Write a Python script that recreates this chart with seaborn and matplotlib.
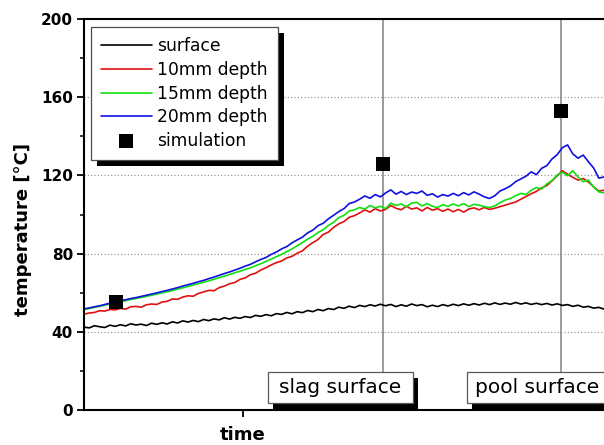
import numpy as np
import seaborn as sns
import matplotlib.pyplot as plt
from matplotlib.patches import Rectangle
from matplotlib.transforms import IdentityTransform

# time axis (arbitrary units, no numeric labels in the original)
time = list(range(101))

surface = [42.4, 42.0, 43.1, 42.6, 42.2, 43.4, 42.8, 43.6, 43.0, 44.1,
           43.5, 43.9, 43.2, 44.4, 43.8, 44.6, 44.0, 45.1, 44.5, 45.6,
           45.0, 45.8, 45.2, 46.3, 45.7, 46.6, 46.1, 47.2, 46.5, 47.4,
           46.9, 47.8, 47.3, 48.4, 47.9, 48.8, 48.2, 49.3, 48.9, 49.9,
           49.2, 50.3, 49.8, 50.9, 50.3, 51.4, 50.8, 51.9, 51.4, 52.6,
           52.0, 53.1, 52.4, 53.5, 52.9, 53.8, 53.2, 54.1, 53.3, 54.0,
           52.9, 53.8, 53.1, 54.2, 53.4, 53.9, 52.8, 53.6, 52.9, 53.9,
           53.2, 54.1, 53.4, 54.3, 53.6, 54.4, 53.7, 54.6, 53.9, 54.8,
           54.0, 54.7, 54.1, 55.0, 54.2, 54.8, 54.0, 54.6, 53.9, 54.5,
           53.7, 54.3, 53.5, 53.9, 53.0, 53.6, 52.6, 53.0, 52.1, 52.5,
           51.6]

depth10 = [49.0, 49.6, 49.9, 50.8, 50.6, 51.4, 51.2, 52.0, 51.6, 52.8,
           53.0, 52.6, 53.8, 54.2, 54.0, 55.2, 55.6, 56.8, 56.6, 57.8,
           58.4, 58.2, 59.6, 60.4, 61.2, 61.0, 62.6, 63.4, 64.6, 65.2,
           66.8, 67.6, 69.2, 70.0, 71.6, 72.8, 74.2, 75.4, 76.2, 77.8,
           78.6, 80.2, 81.4, 83.8, 85.6, 87.2, 89.8, 91.0, 93.4, 95.2,
           96.4, 98.6, 99.4, 100.8, 102.4, 101.2, 103.0, 101.8, 102.6, 104.6,
           103.2, 102.4, 104.2, 102.8, 103.4, 101.8, 103.6, 102.2, 103.0, 101.6,
           102.8, 101.4, 102.6, 101.2, 102.8, 103.4, 102.4, 103.6, 102.6, 103.2,
           104.0, 104.8, 105.6, 106.4, 107.8, 109.2, 110.6, 111.8, 113.6, 114.8,
           117.2, 119.8, 122.4, 120.6, 119.0, 117.6, 118.4, 116.6, 114.2, 112.0,
           112.4]

depth15 = [51.4, 51.9, 52.5, 53.0, 53.6, 54.2, 54.9, 55.4, 55.9, 56.5,
           57.0, 57.6, 58.1, 58.7, 59.3, 59.9, 60.5, 61.1, 61.8, 62.5,
           63.2, 63.9, 64.6, 65.3, 66.1, 66.9, 67.7, 68.5, 69.3, 70.2,
           71.0, 71.9, 72.7, 73.8, 74.8, 76.0, 77.2, 78.4, 79.6, 81.0,
           82.4, 84.0, 85.6, 87.4, 88.8, 90.8, 92.2, 94.4, 96.0, 98.4,
           99.6, 101.8, 102.4, 103.6, 102.8, 104.6, 103.4, 104.2, 103.0, 105.8,
           104.6, 105.4, 104.0, 105.8, 106.2, 104.4, 105.6, 104.2, 103.6, 105.0,
           104.2, 105.4, 104.4, 105.6, 104.0, 105.2, 104.8, 104.0, 103.6, 104.4,
           106.0, 107.4, 108.2, 109.6, 110.8, 110.2, 112.4, 113.8, 113.0, 115.6,
           117.4, 120.2, 121.6, 119.8, 122.4, 119.2, 116.8, 117.6, 114.0, 111.6,
           111.0]

depth20 = [51.7, 52.2, 52.8, 53.3, 54.0, 54.6, 55.4, 55.9, 56.4, 57.0,
           57.5, 58.1, 58.7, 59.3, 59.9, 60.6, 61.2, 61.9, 62.6, 63.4,
           64.1, 64.8, 65.6, 66.3, 67.2, 68.0, 68.9, 69.8, 70.6, 71.6,
           72.5, 73.6, 74.5, 75.8, 77.0, 78.0, 79.6, 80.8, 82.4, 83.6,
           85.5, 87.0, 88.4, 90.6, 92.0, 94.3, 95.5, 97.8, 99.6, 101.5,
           103.0, 105.6, 106.4, 107.8, 109.5, 108.3, 110.2, 109.0, 111.0, 112.6,
           110.4, 111.8, 110.2, 111.5, 110.8, 112.0, 109.8, 110.6, 108.9, 110.2,
           109.4, 110.8, 109.6, 111.2, 110.0, 111.6, 110.4, 109.0, 108.2, 109.6,
           112.0, 113.2, 114.6, 116.8, 118.2, 119.6, 121.8, 120.4, 123.6, 125.0,
           128.4, 130.6, 134.2, 135.6, 131.0, 128.8, 130.4, 127.0, 123.8, 118.6,
           119.2]

sim_time = [6.2, 57.5, 91.7]
sim_temp = [55.2, 125.8, 153.0]

marker_times = [57.5, 91.7]
marker_labels = ["slag surface", "pool surface"]

series = [("surface", surface, "black"),
          ("10mm depth", depth10, "#e01010"),
          ("15mm depth", depth15, "#10e010"),
          ("20mm depth", depth20, "#1010e0")]

sns.set_style("ticks")
plt.rcParams['font.family'] = ['DejaVu Sans']
plt.rcParams.update({'text.color': 'black', 'axes.labelcolor': 'black',
                     'xtick.color': 'black', 'ytick.color': 'black'})

fig = plt.figure(figsize=(6.04, 4.45), dpi=100)
ax = fig.add_axes([84/604, 35/445, 520/604, 391/445])

for name, vals, col in series:
    sns.lineplot(x=time, y=vals, color=col, linewidth=1.2, ax=ax, label=name)
sns.scatterplot(x=sim_time, y=sim_temp, marker='s', s=95, color='black',
                edgecolor='black', linewidth=0, ax=ax, label="simulation", zorder=6)

for t in marker_times:
    ax.axvline(t, color='0.5', linewidth=1.1, zorder=1)

for yv in [40, 80, 120, 160]:
    ax.axhline(yv, color='0.55', linestyle=(0, (1, 2)), linewidth=0.8, zorder=0)

ax.set_xlim(0, 100)
ax.set_ylim(0, 200)
ax.set_yticks([0, 40, 80, 120, 160, 200])
ax.set_yticks([20, 60, 100, 140, 180], minor=True)
ax.set_xticks([30.6])
ax.set_xticklabels([""])
ax.tick_params(axis='y', which='major', direction='out', length=5, width=1.3,
               labelsize=11, pad=3)
ax.tick_params(axis='y', which='minor', direction='out', length=3, width=1.1)
ax.tick_params(axis='x', which='major', direction='out', length=5, width=1.3)
for lab in ax.get_yticklabels():
    lab.set_fontweight('bold')

ax.spines['right'].set_visible(False)
for sp in ['left', 'bottom', 'top']:
    ax.spines[sp].set_color('black')
    ax.spines[sp].set_linewidth(1.5)

ax.set_xlabel("time", fontsize=13, fontweight='bold')
ax.xaxis.label.set_va('center')
ax.xaxis.set_label_coords((243-84)/520, -25/391)
ax.set_ylabel("temperature [°C]", fontsize=13, fontweight='bold')
ax.yaxis.label.set_va('center')
ax.yaxis.set_label_coords(-(84-23)/520, (410-229)/391)

# surface marker boxes (pixel positions converted to data units) with black shadows
px_t = 1 / 5.2
px_T = 1 / 1.955
boxes = [(268, 413, 340, 'center'), (467, 640, 475, 'left')]
for (x0, x1, xt, ha), lab in zip(boxes, marker_labels):
    t0 = (x0 - 84) * px_t
    w = (x1 - x0) * px_t
    T0 = (410 - 403) * px_T
    h = 31 * px_T
    ax.add_patch(Rectangle((t0 + 5 * px_t, T0 - 6 * px_T), w, h,
                           facecolor='black', edgecolor='none',
                           zorder=6.5, clip_on=False))
    ax.add_patch(Rectangle((t0, T0), w, h, facecolor='white',
                           edgecolor='0.35', linewidth=0.9,
                           zorder=6.6, clip_on=False))
    ax.text((xt - 84) * px_t, (410 - 387.5) * px_T, lab, fontsize=14.5,
            ha=ha, va='center', color='black', zorder=7)

leg = ax.legend(loc='upper left', bbox_to_anchor=(7/520, 1 - 8/391),
                borderaxespad=0, fontsize=12.3, frameon=True, fancybox=False,
                edgecolor='0.3', framealpha=1, handlelength=2.95,
                handletextpad=0.3, borderpad=0.6, labelspacing=0.33,
                markerscale=1.0)
leg.get_frame().set_linewidth(0.9)
leg.set_zorder(8)
for txt in leg.get_texts():
    txt.set_color('black')

fig.canvas.draw()
bb = leg.get_window_extent()
shadow = Rectangle((bb.x0 + 6, bb.y0 - 6), bb.width, bb.height,
                   transform=IdentityTransform(), facecolor='black',
                   edgecolor='none', zorder=7.9)
ax.add_artist(shadow)

ax.set_xlim(0, 100)
ax.set_ylim(0, 200)
fig.savefig("out.png", dpi=100)
